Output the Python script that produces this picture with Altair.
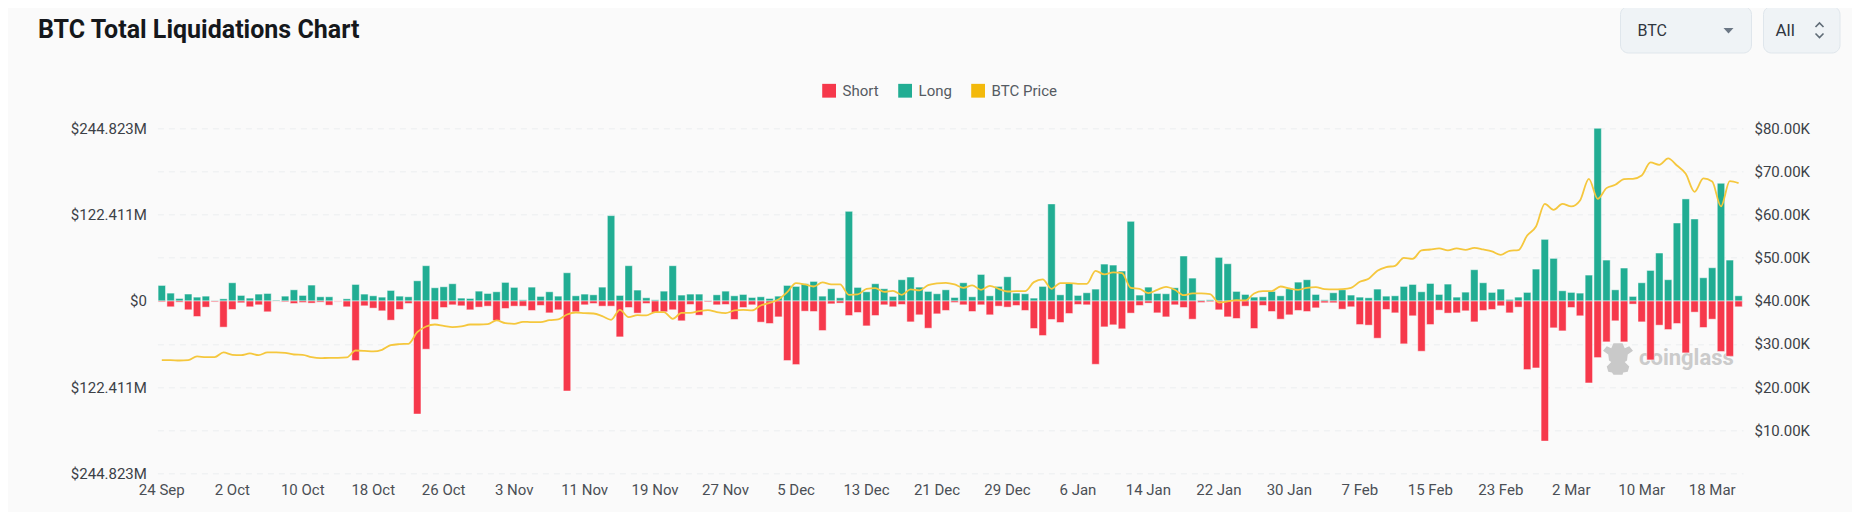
import altair as alt
import pandas as pd

long_m = [21.8,10.9,3.3,9.5,5.2,6.6,0.5,2.8,25.6,7.6,3.8,9.5,10.4,0.9,6.6,15.6,7.6,22.3,5.7,5.7,0,2.8,23.2,9.5,7.1,5.2,14.7,6.6,5.7,28.4,
49.8,18.5,19.9,24.2,3.8,3.3,13.7,10.4,12.8,26.1,19.0,1.4,19.4,6.2,12.8,6.6,39.8,7.1,9.5,8.5,19.4,120.9,7.6,49.8,15.2,4.3,1.4,13.7,49.8,8.1,
9.5,9.5,0.5,8.5,13.7,7.1,9.0,4.7,5.7,3.3,6.6,21.8,20.4,24.2,27.5,6.6,17.1,4.3,127.0,19.0,12.8,24.2,17.1,6.2,29.9,33.7,19.4,13.3,10.0,15.6,
4.7,25.6,5.7,37.4,7.1,20.4,34.1,10.9,10.0,3.8,20.4,137.5,8.5,25.1,7.6,11.4,16.6,52.1,50.7,42.2,112.8,8.1,19.4,10.4,10.0,18.5,63.5,32.2,0.9,1.4,
61.6,52.6,13.3,9.0,5.2,5.7,13.3,7.1,17.1,26.5,29.9,9.0,1.4,11.4,15.6,8.1,5.2,4.3,16.6,6.6,7.1,20.4,23.2,12.8,24.6,9.0,23.7,5.2,12.3,44.1,
25.6,11.9,16.6,1.9,5.2,11.9,45.0,87.2,60.2,14.2,11.9,10.9,36.5,244.8,57.8,15.6,46.5,6.2,25.6,43.1,67.8,29.9,110.4,144.6,116.1,32.7,46.9,166.8,57.8,7.1]

short_m = [1.4,8.5,1.9,12.8,22.3,9.0,1.4,37.4,12.3,2.8,8.5,5.7,15.6,0.5,1.4,3.8,2.4,3.3,1.9,6.2,0.9,8.5,84.8,7.1,10.4,14.2,27.5,12.3,3.8,160.7,
68.7,26.5,9.5,5.7,7.1,12.8,9.0,7.6,28.0,10.9,7.6,7.6,13.7,6.6,17.1,12.8,128.0,15.6,5.7,3.8,7.6,7.6,51.2,9.5,17.5,3.8,16.6,15.6,12.8,28.4,
5.2,20.4,1.4,5.7,5.2,26.5,9.5,5.7,30.3,32.2,22.8,84.8,90.5,14.7,15.2,42.2,4.3,3.3,20.9,16.6,35.6,20.9,5.7,8.5,5.2,29.9,19.9,38.9,18.5,13.7,
2.4,5.7,15.2,5.7,19.9,7.6,9.0,6.6,13.7,39.3,49.3,26.5,30.8,18.0,5.2,5.7,90.1,37.0,34.1,39.8,17.5,6.6,3.3,17.1,22.8,5.7,9.5,26.1,2.4,1.4,
12.8,22.8,25.1,7.6,39.3,6.6,15.2,26.1,19.9,13.7,15.2,10.0,2.8,2.8,11.9,8.5,33.7,34.6,53.1,12.3,17.1,61.1,21.3,71.6,33.7,13.3,17.5,17.1,14.2,29.9,
13.7,12.3,7.1,17.1,9.0,97.6,95.3,199.1,38.4,42.7,9.5,21.3,116.6,80.6,58.3,28.4,58.3,4.7,29.9,83.9,34.6,40.8,32.2,73.9,16.1,37.9,26.1,72.0,78.7,8.5]

price = [26240,26240,26160,26240,27090,26940,26940,28020,27480,27400,27790,27400,28020,28020,27940,27550,27480,26940,26700,26780,26780,26860,28480,28400,28250,28640,29720,29950,30030,32730,
34050,34510,34200,33890,34050,34510,34510,34590,35440,34820,34670,35130,35050,35050,35520,35670,36830,37290,37140,37060,36440,35590,37910,36210,36680,36600,37370,37370,35830,37220,
37220,37600,37840,37370,37140,37760,37910,37760,38920,39540,40310,42010,44100,43790,43320,44250,43790,43790,41390,41470,42780,42940,42090,42320,41390,42630,42400,43630,44020,44170,
43790,43010,43560,42550,43480,42780,42160,42240,42240,44330,44950,42780,44100,44100,43940,43940,46960,46110,46570,46420,43010,42780,41780,42550,43250,42550,41310,41700,41700,41550,
39610,39850,40150,40080,41700,42240,42240,43320,42860,42550,43010,43170,42710,42630,42710,43010,44410,45100,46960,47810,48120,49970,49740,51670,51900,52140,51670,52140,51830,52290,
51900,51440,50670,51600,51750,55150,57240,62490,61100,62490,61880,63270,68290,63650,66130,66900,68210,68290,69060,72080,71540,73010,71380,69450,65280,68370,67670,61880,67750,67290]

days = [f"{d.day} {d.strftime('%b')}" for d in pd.date_range("2023-09-24", periods=180)]
tick_labels = days[::8]
series_names = ["Short", "Long", "BTC Price"]
series_colors = ["#f6384b", "#21ad93", "#f3b90b"]
y_ticks = [-244.823, -183.617, -122.411, -61.206, 0, 61.206, 122.411, 183.617, 244.823]
price_ticks = [10000, 20000, 30000, 40000, 50000, 60000, 70000, 80000]

FONT = "Roboto"
W, H = 1585.6, 345
PX, PY = 157.4, 128.3   # page position of the plot area

bars_df = pd.DataFrame(
    {"day": days * 2,
     "value": [-v for v in short_m] + long_m,
     "series": ["Short"] * 180 + ["Long"] * 180}
)
line_df = pd.DataFrame({"day": days, "price": price})

x_scale = alt.Scale(domain=days, paddingInner=0.16, paddingOuter=0.08)
x_axis = alt.Axis(values=tick_labels, labelAngle=0, title=None, ticks=False, domain=False,
                  labelFont=FONT, labelFontSize=15, labelColor="#4a4f55", labelPadding=9,
                  grid=False, labelOverlap=False, labelFlush=False)

y_axis = alt.Axis(
    values=y_ticks, orient="left", title=None, ticks=False, domain=False,
    labelPadding=11, labelFont=FONT, labelFontSize=15, labelColor="#3c4147",
    grid=True, gridDash=[6, 5], gridColor="#eceef0", gridWidth=1,
    labelExpr="abs(datum.value)<1 ? '$0' : abs(datum.value)>200 ? '$244.823M' : (abs(datum.value)>100 && abs(datum.value)<150) ? '$122.411M' : ''",
)
y_scale = alt.Scale(domain=[-244.823, 244.823], nice=False, zero=False)

bars = alt.Chart(bars_df).mark_bar(size=7.4, stroke="#ffffff", strokeOpacity=0.45, strokeWidth=1).encode(
    x=alt.X("day:N", scale=x_scale, axis=x_axis, sort=days),
    y=alt.Y("value:Q", scale=y_scale, axis=y_axis, stack=None),
    color=alt.Color(
        "series:N",
        scale=alt.Scale(domain=series_names, range=series_colors),
        legend=alt.Legend(
            title=None, orient="none", direction="horizontal", columns=3,
            legendX=821.6 - PX, legendY=83 - PY, symbolType="square", symbolSize=190,
            symbolStrokeWidth=0, labelFont=FONT, labelFontSize=15, labelColor="#555b62",
            columnPadding=18, labelOffset=6,
        ),
    ),
)

line = alt.Chart(line_df).mark_line(color="#f5c73d", strokeWidth=1.8, interpolate="monotone").encode(
    x=alt.X("day:N", scale=x_scale, axis=x_axis, sort=days),
    y=alt.Y("price:Q",
            scale=alt.Scale(domain=[0, 80000], nice=False),
            axis=alt.Axis(values=price_ticks, orient="right", title=None, ticks=False, domain=False,
                          grid=False, labelPadding=11, labelFont=FONT, labelFontSize=15,
                          labelColor="#3c4147",
                          labelExpr="'$' + format(datum.value/1000, '.2f') + 'K'")),
)

one = alt.Data(values=[{"a": 1}])

def box(x0, x1, y0, y1):
    return alt.Chart(one).mark_rect(fill="#eff3f6", stroke="#dfe6ec", strokeWidth=1, cornerRadius=8).encode(
        x=alt.value(x0 - PX), x2=alt.value(x1 - PX), y=alt.value(y0 - PY), y2=alt.value(y1 - PY))

def label(text, x, y, size, color, weight="normal", align="left"):
    return alt.Chart(one).mark_text(text=text, font=FONT, fontSize=size, color=color, fontWeight=weight,
                                    align=align, baseline="middle").encode(
        x=alt.value(x - PX), y=alt.value(y - PY))

def glyph(path, x, y, size, color):
    return alt.Chart(one).mark_point(shape=path, size=size, fill=color, filled=True, opacity=1, strokeWidth=0).encode(
        x=alt.value(x - PX), y=alt.value(y - PY))

def chevron(path, x, y):
    return alt.Chart(one).mark_point(shape=path, size=64, filled=False, stroke="#5f6b76", strokeWidth=1.6, opacity=1).encode(
        x=alt.value(x - PX), y=alt.value(y - PY))

bull = ("M-1,-0.55 L-0.75,-0.85 L-0.45,-0.72 L-0.3,-1.05 L0.3,-1.05 L0.45,-0.72 L0.75,-0.85 L1,-0.55 L0.65,-0.3 "
        "L0.6,0.1 L0.45,0.2 L0.75,0.5 L0.65,0.85 L0.35,0.9 L0.3,1.05 L-0.3,1.05 L-0.4,0.9 L-0.65,0.85 "
        "L-0.75,0.5 L-0.45,0.2 L-0.6,0.1 L-0.65,-0.3 Z")

watermark = [
    glyph(bull, 1618, 359, 900, "#c9c9c9"),
    label("coinglass", 1639, 358, 22, "#cbcbcb", "bold"),
]
ui = [
    box(1620.5, 1751.5, 6.5, 53),
    box(1763.5, 1840, 6.5, 53),
    label("BTC", 1637.5, 30.5, 16, "#2f3640"),
    label("All", 1775.5, 30.5, 17, "#2f3640"),
    glyph("M-1,-0.5 L1,-0.5 L0,0.6 Z", 1728.5, 30.5, 100, "#6b7785"),
    chevron("M-1,0.5 L0,-0.5 L1,0.5", 1819.5, 25),
    chevron("M-1,-0.5 L0,0.5 L1,-0.5", 1819.5, 35.5),
    label("BTC Total Liquidations Chart", 38, 30, 25, "#15181c", "bold"),
]

chart = alt.layer(*watermark, bars, line, *ui).resolve_scale(y="independent").properties(
    width=W, height=H,
    autosize="none",
    padding={"left": PX - 8, "top": PY - 8, "right": 1844 - (PX - 8) - W, "bottom": 504 - (PY - 8) - H},
    background="#fafafa",
).configure_view(stroke=None)

chart.save("out.html", embed_options={"renderer": "svg", "actions": False})
